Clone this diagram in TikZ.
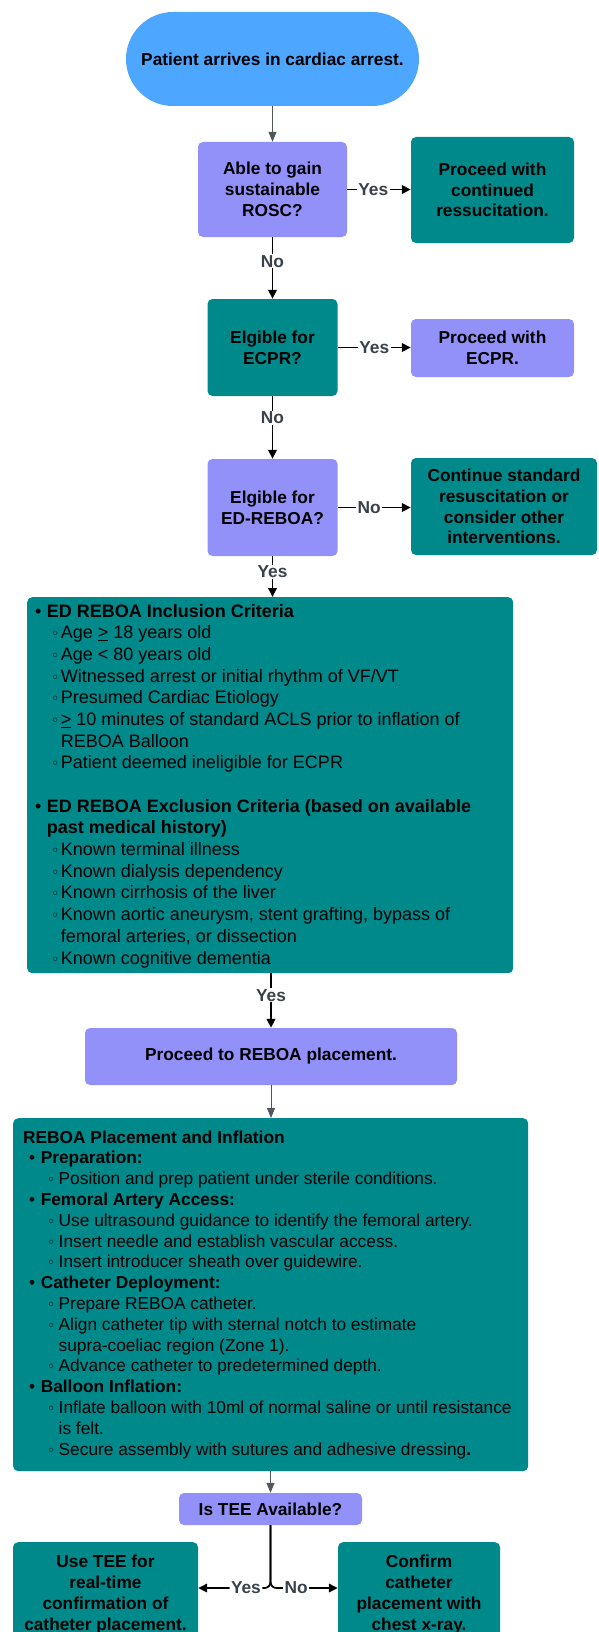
\documentclass[tikz,border=0pt]{standalone}
\usepackage{fontspec}
\setmainfont{Liberation Sans}
\newfontfamily\symf{DejaVu Sans}
\usetikzlibrary{arrows.meta,shapes.misc}
\definecolor{startblue}{RGB}{77,166,255}
\definecolor{purp}{RGB}{146,145,250}
\definecolor{tealc}{RGB}{0,137,138}
\definecolor{labc}{RGB}{58,65,74}
\definecolor{grayc}{RGB}{80,86,94}
\newcommand\sbul{{\symf\fontsize{14}{14}\selectfont ◦}}
\newcommand\bul{•}
\begin{document}
\begin{tikzpicture}[x=1pt,y=-1pt,
  base/.style={font=\bfseries\fontsize{17.3}{20.8}\selectfont, align=center, inner sep=0pt},
  pbox/.style={base, rounded corners=5pt, fill=purp},
  tbox/.style={base, rounded corners=5pt, fill=tealc},
  conn/.style={draw=black, line width=1.8pt, -{Triangle[length=9pt,width=8.5pt]}},
  gconn/.style={draw=grayc, line width=1pt, -{Triangle[length=10pt,width=8pt]}},
  lab/.style={fill=white, font=\bfseries\fontsize{17.3}{19}\selectfont, text=labc, inner xsep=1.5pt, inner ysep=1pt},
  txta/.style={font=\fontsize{18}{21.67}\selectfont, align=left, inner sep=0pt, anchor=north west},
  txtb/.style={font=\fontsize{17.3}{20.8}\selectfont, align=left, inner sep=0pt, anchor=north west}]
\useasboundingbox (0,0) rectangle (599,1632);
\clip (0,0) rectangle (599,1632);

% nodes
\node[base, rounded rectangle, fill=startblue, minimum width=293pt, minimum height=94pt] (start) at (272.5,59) {Patient arrives in cardiac arrest.};
\node[pbox, minimum width=149pt, minimum height=95pt] (rosc) at (272.5,189.5) {Able to gain\\sustainable\\ROSC?};
\node[tbox, minimum width=163pt, minimum height=106pt] (cont) at (492.5,190) {Proceed with\\continued\\ressucitation.};
\node[tbox, minimum width=130pt, minimum height=97pt] (ecpr) at (272.5,347.5) {Elgible for\\ECPR?};
\node[pbox, minimum width=163pt, minimum height=58pt] (pecpr) at (492.5,348) {Proceed with\\ECPR.};
\node[pbox, minimum width=130pt, minimum height=97pt] (edreboa) at (272.5,507.5) {Elgible for\\ED-REBOA?};
\node[tbox, minimum width=186pt, minimum height=97pt] (contstd) at (504,506.5) {Continue standard\\resuscitation or\\consider other\\interventions.};

\node[tbox, anchor=north west, minimum width=486pt, minimum height=376pt] (crit) at (27,597) {};
\node[txta] (crittxt) at (35,601.9) {%
\strut\makebox[11.7pt][l]{\bul}\textbf{ED REBOA Inclusion Criteria}\\
\hspace*{16pt}\makebox[9.7pt][l]{\sbul}Age \underline{>} 18 years old\\
\hspace*{16pt}\makebox[9.7pt][l]{\sbul}Age < 80 years old\\
\hspace*{16pt}\makebox[9.7pt][l]{\sbul}Witnessed arrest or initial rhythm of VF/VT\\
\hspace*{16pt}\makebox[9.7pt][l]{\sbul}Presumed Cardiac Etiology\\
\hspace*{16pt}\makebox[9.7pt][l]{\sbul}\underline{>} 10 minutes of standard ACLS prior to inflation of\\
\hspace*{25.7pt}REBOA Balloon\\
\hspace*{16pt}\makebox[9.7pt][l]{\sbul}Patient deemed ineligible for ECPR\\[21.67pt]
\makebox[11.7pt][l]{\bul}\textbf{ED REBOA Exclusion Criteria (based on available}\\
\hspace*{11.7pt}\textbf{past medical history)}\\
\hspace*{16pt}\makebox[9.7pt][l]{\sbul}Known terminal illness\\
\hspace*{16pt}\makebox[9.7pt][l]{\sbul}Known dialysis dependency\\
\hspace*{16pt}\makebox[9.7pt][l]{\sbul}Known cirrhosis of the liver\\
\hspace*{16pt}\makebox[9.7pt][l]{\sbul}Known aortic aneurysm, stent grafting, bypass of\\
\hspace*{25.7pt}femoral arteries, or dissection\\
\hspace*{16pt}\makebox[9.7pt][l]{\sbul}Known cognitive dementia};

\node[pbox, minimum width=372pt, minimum height=57pt] (proc) at (271,1056.5) {Proceed to REBOA placement.};

\node[tbox, anchor=north west, minimum width=515pt, minimum height=353pt] (place) at (13,1118) {};
\node[txtb] (placetxt) at (23,1128.3) {%
\strut\textbf{REBOA Placement and Inflation}\\
\hspace*{6pt}\makebox[11.6pt][l]{\bul}\textbf{Preparation:}\\
\hspace*{24pt}\makebox[11.5pt][l]{\sbul}Position and prep patient under sterile conditions.\\
\hspace*{6pt}\makebox[11.6pt][l]{\bul}\textbf{Femoral Artery Access:}\\
\hspace*{24pt}\makebox[11.5pt][l]{\sbul}Use ultrasound guidance to identify the femoral artery.\\
\hspace*{24pt}\makebox[11.5pt][l]{\sbul}Insert needle and establish vascular access.\\
\hspace*{24pt}\makebox[11.5pt][l]{\sbul}Insert introducer sheath over guidewire.\\
\hspace*{6pt}\makebox[11.6pt][l]{\bul}\textbf{Catheter Deployment:}\\
\hspace*{24pt}\makebox[11.5pt][l]{\sbul}Prepare REBOA catheter.\\
\hspace*{24pt}\makebox[11.5pt][l]{\sbul}Align catheter tip with sternal notch to estimate\\
\hspace*{35.5pt}supra-coeliac region (Zone 1).\\
\hspace*{24pt}\makebox[11.5pt][l]{\sbul}Advance catheter to predetermined depth.\\
\hspace*{6pt}\makebox[11.6pt][l]{\bul}\textbf{Balloon Inflation:}\\
\hspace*{24pt}\makebox[11.5pt][l]{\sbul}Inflate balloon with 10ml of normal saline or until resistance\\
\hspace*{35.5pt}is felt.\\
\hspace*{24pt}\makebox[11.5pt][l]{\sbul}Secure assembly with sutures and adhesive dressing\textbf{.}};

\node[pbox, minimum width=183pt, minimum height=32pt] (tee) at (270.5,1509) {Is TEE Available?};
\node[tbox, anchor=north, minimum width=185pt, inner ysep=11pt] (usetee) at (105.5,1542) {\strut Use TEE for\\real-time\\confirmation of\\catheter placement.};
\node[tbox, anchor=north, minimum width=162pt, inner ysep=11pt] (confirm) at (419,1542) {\strut Confirm\\catheter\\placement with\\chest x-ray.};

% connectors
\draw[gconn] (start.south -| rosc.north) -- (rosc.north);
\draw[conn] (rosc.east) -- node[lab, pos=0.41] {Yes} (rosc.east -| cont.west);
\draw[conn] (rosc.south) -- node[lab, pos=0.39] {No} (ecpr.north);
\draw[conn] (ecpr.east) -- node[lab, pos=0.5] {Yes} (ecpr.east -| pecpr.west);
\draw[conn] (ecpr.south) -- node[lab, pos=0.35] {No} (edreboa.north);
\draw[conn] (edreboa.east) -- node[lab, pos=0.43] {No} (edreboa.east -| contstd.west);
\draw[conn] (edreboa.south) -- node[lab, pos=0.39] {Yes} (edreboa.south |- crit.north);
\draw[conn] (proc.north |- crit.south) -- node[lab, pos=0.4] {Yes} (proc.north);
\draw[gconn] (proc.south) -- (proc.south |- place.north);
\draw[gconn] (tee.north |- place.south) -- (tee.north);
\coordinate (ty) at (0,1588);
\draw[conn, rounded corners=6pt] (tee.south) |- node[lab, pos=0.67] {Yes} (usetee.east |- ty);
\draw[conn, rounded corners=6pt] (tee.south) |- node[lab, pos=0.69] {No} (confirm.west |- ty);
\end{tikzpicture}
\end{document}
